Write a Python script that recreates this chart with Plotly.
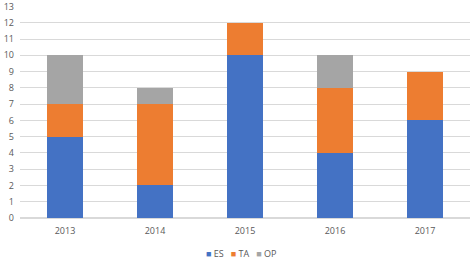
import plotly.graph_objects as go

years = ["2013", "2014", "2015", "2016", "2017"]
es = [5, 2, 10, 4, 6]
ta = [2, 5, 2, 4, 3]
op = [3, 1, 0, 2, 0]
y_ticks = list(range(0, 14))
series = [("ES", es, "#4472C4"), ("TA", ta, "#ED7D31"), ("OP", op, "#A5A5A5")]

fig = go.Figure()
for name, vals, col in series:
    fig.add_bar(x=years, y=vals, name=name, showlegend=False,
                marker=dict(color=col, line=dict(width=0)))

legend_text = "   ".join(
    f"<span style='color:{col}'>■</span> {name}" for name, _, col in series
)
fig.add_annotation(text=legend_text, xref="paper", yref="paper", x=0.49, y=-0.125,
                   xanchor="center", yanchor="top", showarrow=False,
                   font=dict(size=9, color="#595959"))

fig.update_layout(
    barmode="stack",
    bargap=0.6,
    width=472, height=259,
    margin=dict(l=20, r=2, t=6, b=41),
    paper_bgcolor="white", plot_bgcolor="white",
    font=dict(family="Open Sans", size=9, color="#595959"),
    xaxis=dict(showgrid=False, showline=False, ticks="", tickfont=dict(size=9),
               automargin=False, ticklabelstandoff=6),
    yaxis=dict(range=[0, 13.03], tickvals=y_ticks, showgrid=True, gridcolor="#D9D9D9",
               gridwidth=1, zeroline=True, zerolinecolor="#D9D9D9", ticks="",
               tickfont=dict(size=9), ticklabelstandoff=5, automargin=False,
               ticklabeloverflow="allow"),
)

fig.write_html("out.html", config={"displayModeBar": False},
               post_script="document.body.style.margin='0';")
